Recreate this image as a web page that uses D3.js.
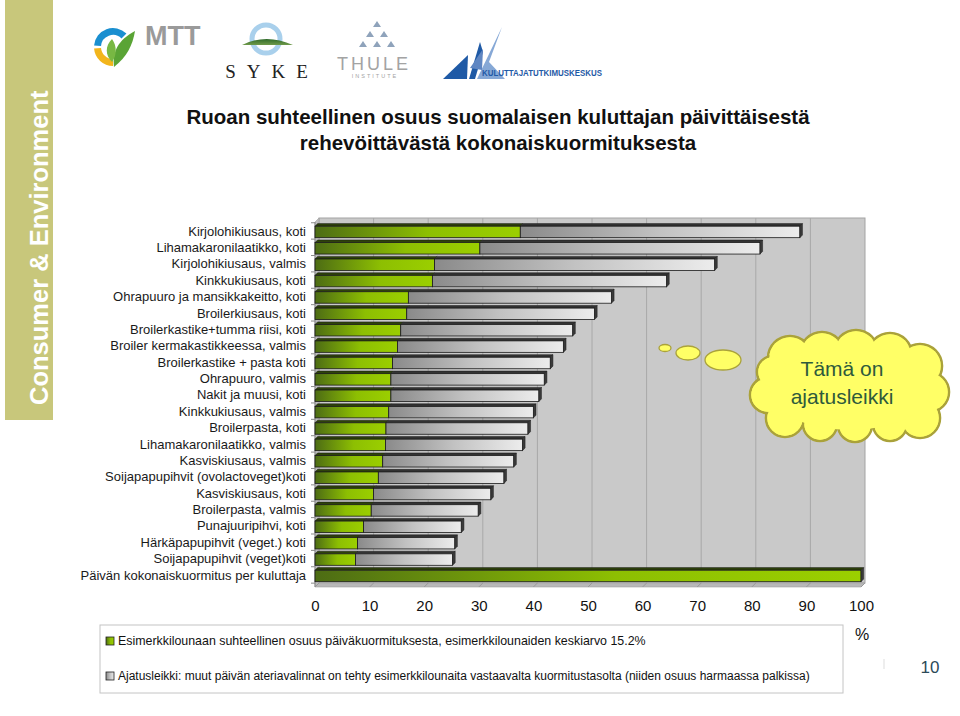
<!DOCTYPE html>
<html><head><meta charset="utf-8">
<script src="https://cdn.jsdelivr.net/npm/d3@7"></script>
<style>
html,body{margin:0;padding:0;background:#fff;}
svg{display:block;font-family:Arial,"Liberation Sans",sans-serif;}
</style></head>
<body>
<svg id="chart" width="960" height="716"></svg>
<script>
const categories = [
  "Kirjolohikiusaus, koti",
  "Lihamakaronilaatikko, koti",
  "Kirjolohikiusaus, valmis",
  "Kinkkukiusaus, koti",
  "Ohrapuuro ja mansikkakeitto, koti",
  "Broilerkiusaus, koti",
  "Broilerkastike+tumma riisi, koti",
  "Broiler kermakastikkeessa, valmis",
  "Broilerkastike + pasta koti",
  "Ohrapuuro, valmis",
  "Nakit ja muusi, koti",
  "Kinkkukiusaus, valmis",
  "Broilerpasta, koti",
  "Lihamakaronilaatikko, valmis",
  "Kasviskiusaus, valmis",
  "Soijapapupihvit (ovolactoveget)koti",
  "Kasviskiusaus, koti",
  "Broilerpasta, valmis",
  "Punajuuripihvi, koti",
  "Härkäpapupihvit (veget.) koti",
  "Soijapapupihvit (veget)koti",
  "Päivän kokonaiskuormitus per kuluttaja"
];
// share of the example lunch (green) and of the other meals (grey), %
const lunchShare = [37.6, 30.2, 21.9, 21.5, 17.1, 16.8, 15.7, 15.1, 14.2, 13.9, 13.9, 13.5, 13.0, 12.9, 12.4, 11.6, 10.7, 10.3, 8.9, 7.8, 7.4, 100];
const otherShare = [51.2, 51.3, 51.3, 42.9, 37.2, 34.4, 31.5, 30.4, 28.9, 28.1, 27.1, 26.5, 26.0, 25.1, 24.0, 23.0, 21.5, 19.6, 17.9, 17.8, 17.8, 0];
const xTicks = [0, 10, 20, 30, 40, 50, 60, 70, 80, 90, 100];
const seriesNames = [
  "Esimerkkilounaan suhteellinen osuus päiväkuormituksesta, esimerkkilounaiden keskiarvo 15.2%",
  "Ajatusleikki: muut päivän ateriavalinnat on tehty esimerkkilounaita vastaavalta kuormitustasolta (niiden osuus harmaassa palkissa)"
];
const titleLines = ["Ruoan suhteellinen osuus suomalaisen kuluttajan päivittäisestä", "rehevöittävästä kokonaiskuormituksesta"];

const svg = d3.select("#chart");
const defs = svg.append("defs");
function lin(id, stops, x2 = "100%", y2 = "0%") {
  const g = defs.append("linearGradient").attr("id", id).attr("x1", "0%").attr("y1", "0%").attr("x2", x2).attr("y2", y2);
  stops.forEach(s => g.append("stop").attr("offset", s[0]).attr("stop-color", s[1]));
}
lin("gGreen", [[0, "#4d6c14"], [0.55, "#8dbf02"], [1, "#9bcf00"]]);
lin("gGray", [[0, "#8a8a8a"], [0.5, "#c2c2c2"], [1, "#ececec"]]);
lin("gHill", [[0, "#2f6a2a"], [1, "#6f9a4a"]], "0%", "100%");

// ---- left band ----
svg.append("rect").attr("x", 5).attr("y", 0).attr("width", 48).attr("height", 420).attr("fill", "#c8c77b");
svg.append("text").attr("transform", "translate(48,405) rotate(-90)")
  .attr("fill", "#fff").attr("font-weight", "bold").attr("font-size", 25.5)
  .text("Consumer & Environment");

// ---- logos ----
const logo = svg.append("g");
const arc = d3.arc().innerRadius(12).outerRadius(19);
logo.append("path").attr("transform", "translate(113,47)").attr("d", arc({startAngle: -Math.PI / 2 + 0.08, endAngle: Math.PI / 4})).attr("fill", "#1a8fd0");
logo.append("path").attr("transform", "translate(113,47)").attr("d", arc({startAngle: -Math.PI, endAngle: -Math.PI / 2 - 0.08})).attr("fill", "#f2b51c");
logo.append("path").attr("d", "M114,67 C112,52 118,40 135,31 C133,44 127,57 114,67 Z").attr("fill", "#5aa435");
logo.append("path").attr("d", "M112,62 C105,55 105,46 112,39 C117,46 117,55 112,62 Z").attr("fill", "#78b843");
logo.append("text").attr("x", 145).attr("y", 45).attr("font-size", 27).attr("font-weight", "bold").attr("fill", "#9a9a9a").text("MTT");
logo.append("circle").attr("cx", 266).attr("cy", 39).attr("r", 14).attr("fill", "none").attr("stroke", "#a9d0ec").attr("stroke-width", 5);
logo.append("path").attr("d", "M242,45 Q266,33 293,45 Z").attr("fill", "url(#gHill)");
logo.append("text").attr("x", 272).attr("y", 78).attr("text-anchor", "middle").attr("font-family", "Liberation Serif, DejaVu Serif, serif")
  .attr("font-size", 19).attr("letter-spacing", 11).attr("fill", "#222").text("SYKE");
const triPts = [[377, 21], [370, 31], [384, 31], [363, 41], [377, 41], [391, 41]];
triPts.forEach(p => logo.append("path").attr("d", `M${p[0]},${p[1]} l4,6 l-8,0 Z`).attr("fill", "#8fa3bb"));
logo.append("text").attr("x", 374).attr("y", 70).attr("text-anchor", "middle").attr("font-size", 18).attr("letter-spacing", 3).attr("fill", "#a3a3a3").text("THULE");
logo.append("text").attr("x", 375).attr("y", 78).attr("text-anchor", "middle").attr("font-size", 5.5).attr("letter-spacing", 2).attr("fill", "#a3a3a3").text("INSTITUTE");
logo.append("path").attr("d", "M443,79 L468,55 L467,79 Z").attr("fill", "#1f5aa6");
logo.append("path").attr("d", "M469,79 L480,42 L483,52 L475,79 Z").attr("fill", "#1f5aa6");
logo.append("path").attr("d", "M477,79 L502,27 L489,62 L505,79 Z").attr("fill", "#86a8d6");
logo.append("path").attr("d", "M470,68 L483,49 L482,70 Z").attr("fill", "#5f86c2");
logo.append("text").attr("x", 482).attr("y", 76).attr("font-size", 9).attr("font-weight", "bold").attr("fill", "#1f5aa6")
  .attr("textLength", 120).attr("lengthAdjust", "spacingAndGlyphs").text("KULUTTAJATUTKIMUSKESKUS");

// ---- title ----
titleLines.forEach((t, i) => svg.append("text").attr("x", 498).attr("y", 124 + i * 26).attr("text-anchor", "middle")
  .attr("font-size", 20.5).attr("font-weight", "bold").attr("fill", "#111").text(t));

// ---- chart ----
const x0 = 315, x1 = 861, yTop = 222, yBot = 587, D = 4;
const x = d3.scaleLinear().domain([0, 100]).range([x0, x1]);
const y = d3.scaleBand().domain(categories).range([220.3, 585.6]).padding(0.3);

const plot = svg.append("g");
plot.append("rect").attr("x", x0 + D).attr("y", yTop - D).attr("width", x1 - x0).attr("height", yBot - yTop)
  .attr("fill", "#c9c9c9").attr("stroke", "#a3a3a3").attr("stroke-width", 1);
plot.append("path").attr("d", `M${x0},${yTop} L${x0 + D},${yTop - D} L${x0 + D},${yBot - D} L${x0},${yBot} Z`).attr("fill", "#bdbdbd").attr("stroke", "#a3a3a3").attr("stroke-width", 0.6);
plot.append("path").attr("d", `M${x0},${yBot} L${x0 + D},${yBot - D} L${x1 + D},${yBot - D} L${x1},${yBot} Z`).attr("fill", "#b8b8b8").attr("stroke", "#a3a3a3").attr("stroke-width", 0.6);
plot.selectAll(".grid").data(xTicks.slice(1, -1)).join("line")
  .attr("x1", d => x(d) + D).attr("x2", d => x(d) + D).attr("y1", yTop - D).attr("y2", yBot - D)
  .attr("stroke", "#a8a8a8").attr("stroke-width", 1);
plot.selectAll(".fgrid").data(xTicks).join("line")
  .attr("x1", d => x(d)).attr("x2", d => x(d) + D).attr("y1", yBot).attr("y2", yBot - D)
  .attr("stroke", "#9a9a9a").attr("stroke-width", 1);
plot.append("line").attr("x1", x0).attr("x2", x0).attr("y1", yTop).attr("y2", yBot).attr("stroke", "#8a8a8a");
const boundaries = categories.map(c => y(c) - y.step() * y.paddingInner() / 2).concat([y(categories[categories.length - 1]) + y.bandwidth() + y.step() * y.paddingInner() / 2]);
plot.selectAll(".ytick").data(boundaries).join("line")
  .attr("x1", x0 - 4).attr("x2", x0).attr("y1", d => d).attr("y2", d => d).attr("stroke", "#8a8a8a");

const d = 2.6;
function seg(g, xa, xb, yy, h, fill, topFill, side) {
  if (xb - xa <= 0) return;
  g.append("path").attr("d", `M${xa},${yy} L${xa + d},${yy - d} L${xb + d},${yy - d} L${xb},${yy} Z`).attr("fill", topFill).attr("stroke", "#1a1a1a").attr("stroke-width", 0.5);
  g.append("rect").attr("x", xa).attr("y", yy).attr("width", xb - xa).attr("height", h).attr("fill", fill).attr("stroke", "#1a1a1a").attr("stroke-width", 0.8);
  if (side) g.append("path").attr("d", `M${xb},${yy} L${xb + d},${yy - d} L${xb + d},${yy + h - d} L${xb},${yy + h} Z`).attr("fill", "#3a3a3a").attr("stroke", "#1a1a1a").attr("stroke-width", 0.5);
}
const bars = plot.append("g");
categories.forEach((c, i) => {
  const g = bars.append("g");
  const yy = y(c) + 1, h = y.bandwidth();
  const a = x(0), b = x(lunchShare[i]), e = x(lunchShare[i] + otherShare[i]);
  seg(g, a, b, yy, h, "url(#gGreen)", "#2e420a", otherShare[i] === 0);
  seg(g, b, e, yy, h, "url(#gGray)", "#333", true);
});

const xAxis = svg.append("g").attr("transform", "translate(0,600)")
  .call(d3.axisBottom(x).tickValues(xTicks).tickSize(0).tickPadding(0));
xAxis.select(".domain").remove();
xAxis.selectAll("text").attr("font-size", 15).attr("font-family", "Arial, Liberation Sans, sans-serif").attr("fill", "#111");
const yAxis = svg.append("g").attr("transform", `translate(${x0},0.5)`)
  .call(d3.axisLeft(y).tickSize(0).tickPadding(9));
yAxis.select(".domain").remove();
yAxis.selectAll("text").attr("font-size", 13).attr("font-family", "Arial, Liberation Sans, sans-serif").attr("fill", "#1a1a1a");
svg.append("text").attr("x", 862).attr("y", 640).attr("text-anchor", "middle").attr("font-size", 16).attr("fill", "#111").text("%");

// ---- thought cloud ----
const cloud = svg.append("g");
const bubbles = [[665, 348, 6, 3.5], [688, 353, 12, 7], [723, 360, 18, 10]];
cloud.selectAll(".bub").data(bubbles).join("ellipse").attr("cx", b => b[0]).attr("cy", b => b[1]).attr("rx", b => b[2]).attr("ry", b => b[3])
  .attr("fill", "#ffff66").attr("stroke", "#aaa23a").attr("stroke-width", 1.3);
const puffs = [[790, 358, 22], [822, 354, 22], [856, 352, 22], [890, 355, 22], [920, 366, 22], [929, 392, 20], [920, 418, 20],
  [890, 424, 17], [855, 425, 17], [820, 424, 17], [785, 418, 19], [768, 395, 18], [773, 372, 16]];
const cloudStroke = cloud.append("g"), cloudFill = cloud.append("g");
cloudStroke.selectAll("circle").data(puffs).join("circle").attr("cx", p => p[0]).attr("cy", p => p[1]).attr("r", p => p[2])
  .attr("fill", "#ffff66").attr("stroke", "#aaa23a").attr("stroke-width", 2.6);
cloudFill.selectAll("circle").data(puffs).join("circle").attr("cx", p => p[0]).attr("cy", p => p[1]).attr("r", p => p[2] - 1.3)
  .attr("fill", "#ffff66");
cloudFill.append("ellipse").attr("cx", 850).attr("cy", 390).attr("rx", 80).attr("ry", 40).attr("fill", "#ffff66");
["Tämä on", "ajatusleikki"].forEach((t, i) => cloud.append("text").attr("x", 842).attr("y", 376 + i * 28).attr("text-anchor", "middle")
  .attr("font-size", 21).attr("fill", "#2e5a3c").text(t));

// ---- legend ----
const leg = svg.append("g");
leg.append("rect").attr("x", 100).attr("y", 625).attr("width", 743).attr("height", 68).attr("fill", "#fff").attr("stroke", "#c4c4c4");
[["url(#gGreen)", 641, 12.4], ["url(#gGray)", 676, 12.0]].forEach((s, i) => {
  leg.append("rect").attr("x", 106).attr("y", s[1] - 4).attr("width", 8).attr("height", 8).attr("fill", s[0]).attr("stroke", "#222").attr("stroke-width", 0.8);
  leg.append("text").attr("x", 118).attr("y", s[1] + 4).attr("font-size", s[2]).attr("fill", "#111").text(seriesNames[i]);
});

svg.append("line").attr("x1", 884).attr("x2", 884).attr("y1", 659).attr("y2", 669).attr("stroke", "#ddd");
svg.append("text").attr("x", 930).attr("y", 673).attr("text-anchor", "middle").attr("font-size", 17).attr("fill", "#2c4a58").text("10");
</script>
</body></html>
